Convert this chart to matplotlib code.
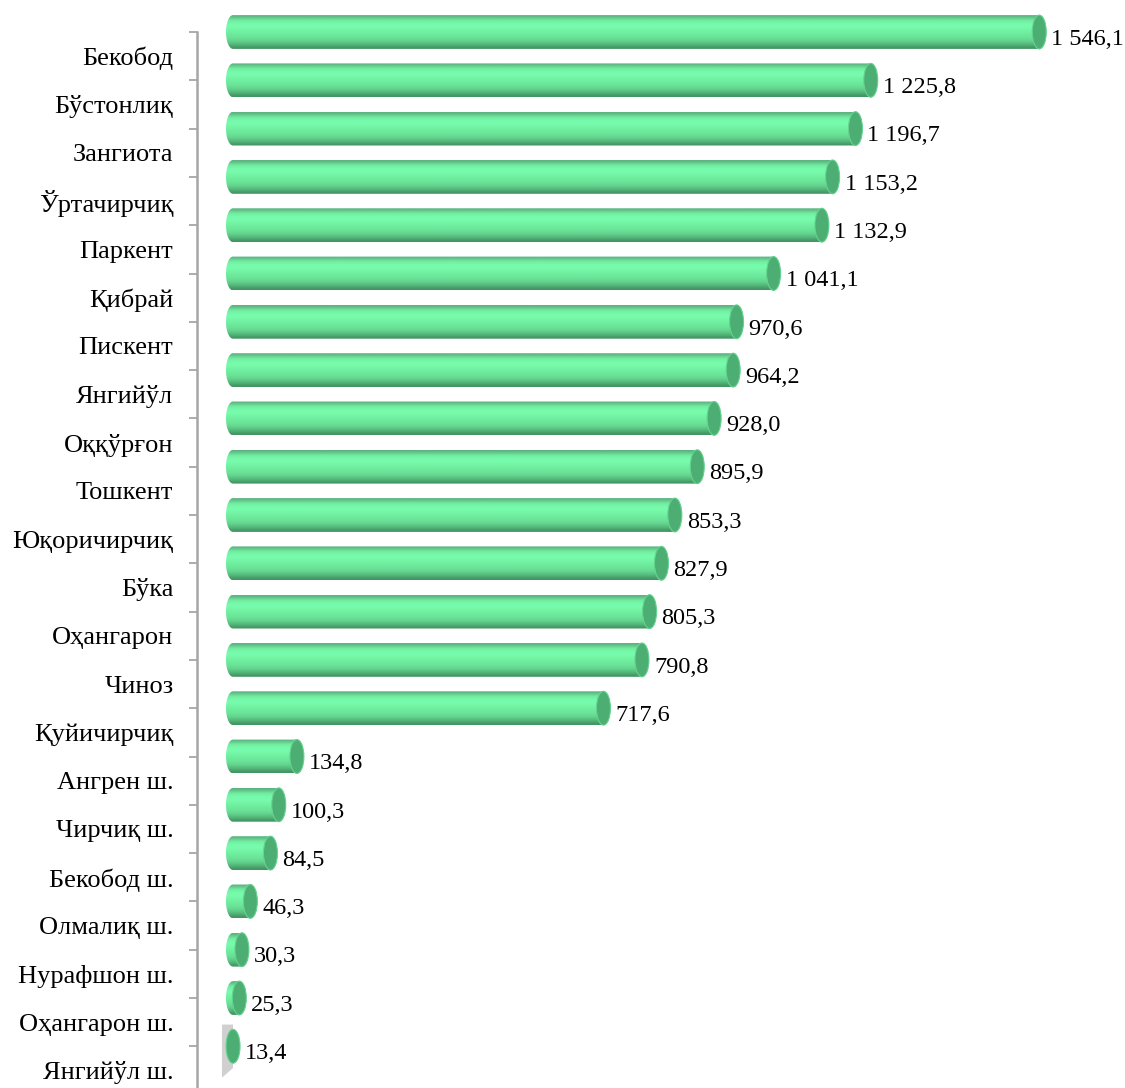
import matplotlib
matplotlib.use("Agg")
import matplotlib.pyplot as plt
import numpy as np
from matplotlib.patches import Ellipse, PathPatch, Polygon
from matplotlib.path import Path

districts = ["Бекобод", "Бўстонлиқ", "Зангиота", "Ўртачирчиқ", "Паркент", "Қибрай",
             "Пискент", "Янгийўл", "Оққўрғон", "Тошкент", "Юқоричирчиқ", "Бўка",
             "Оҳангарон", "Чиноз", "Қуйичирчиқ", "Ангрен ш.", "Чирчиқ ш.", "Бекобод ш.",
             "Олмалиқ ш.", "Нурафшон ш.", "Оҳангарон ш.", "Янгийўл ш."]
values = [1546.1, 1225.8, 1196.7, 1153.2, 1132.9, 1041.1, 970.6, 964.2, 928.0, 895.9,
          853.3, 827.9, 805.3, 790.8, 717.6, 134.8, 100.3, 84.5, 46.3, 30.3, 25.3, 13.4]


def fmt(v):
    s = "{:,.1f}".format(v)
    return s.replace(",", " ").replace(".", ",")


W, H = 1125, 1088
fig = plt.figure(figsize=(W / 100, H / 100), dpi=100)
ax = fig.add_axes([197 / W, 0, 1 - 197 / W, 1])

k = 0.526          # pixels per unit
x0_px = 226        # pixel of the left edge of the bars
rx = 7 / k         # half width of the end caps, data units
bh = 0.70          # bar height in slots
step = 48.3
y_top = -32 / step
y_bot = (H - 32) / step

# vertical shading of the cylinder body (top -> bottom)
shade = np.array([
    [0.36, 0.70, 0.50],
    [0.44, 0.92, 0.62],
    [0.46, 0.97, 0.66],
    [0.47, 0.99, 0.68],
    [0.46, 0.97, 0.66],
    [0.44, 0.94, 0.63],
    [0.43, 0.91, 0.61],
    [0.41, 0.88, 0.59],
    [0.38, 0.82, 0.55],
    [0.33, 0.72, 0.48],
    [0.26, 0.58, 0.38],
])
grad = shade[:, None, :]

t = np.linspace(0, np.pi, 40)
for i, v in enumerate(values):
    yt, yb = i - bh / 2, i + bh / 2
    c = max(v, rx)
    left = np.column_stack([rx - rx * np.sin(t), i - bh / 2 * np.cos(t)])
    right = np.column_stack([c + rx * np.sin(t), i + bh / 2 * np.cos(t)])
    verts = np.vstack([left, right, left[:1]])
    codes = [Path.MOVETO] + [Path.LINETO] * (len(verts) - 2) + [Path.CLOSEPOLY]
    body = PathPatch(Path(verts, codes), facecolor="none", edgecolor="none")
    ax.add_patch(body)
    im = ax.imshow(grad, extent=(0, c + rx, yb, yt), origin="upper",
                   aspect="auto", interpolation="bicubic", zorder=2)
    im.set_clip_path(body)
    ax.add_patch(Ellipse((c, i), 2 * rx, bh, facecolor="#4cae72",
                         edgecolor="#66d390", lw=0.8, zorder=3))
    ax.text(c + rx + 5 / k, i + 0.15, fmt(v), ha="left", va="center",
            fontsize=17.5, family="Liberation Serif", color="black")

# soft shadow behind the last (smallest) bar
n = len(values) - 1
ax.add_patch(Polygon([(-4 / k, n - 0.45), (rx, n - 0.45), (rx, n + 0.45),
                      (-4 / k, n + 0.65)], closed=True, facecolor="#bdbdbd",
                     edgecolor="none", alpha=0.7, zorder=1))

ax.set_xlim((197 - x0_px) / k, (W - x0_px) / k)
ax.set_ylim(y_bot, y_top)

for s in ["top", "right", "bottom"]:
    ax.spines[s].set_visible(False)
ax.spines["left"].set_bounds(0, y_bot)
ax.spines["left"].set_color("#a6a6a6")
ax.spines["left"].set_linewidth(1.8)
ax.set_xticks([])
ax.set_yticks(np.arange(len(values)))
ax.set_yticklabels([])
ax.tick_params(axis="y", which="major", length=6, width=1.3, color="#a6a6a6", direction="out")
ax.set_yticks(np.arange(len(values)) + 0.5, districts, minor=True)
ax.tick_params(axis="y", which="minor", length=0, pad=17)
for lbl in ax.get_yticklabels(minor=True):
    lbl.set_fontfamily("Liberation Serif")
    lbl.set_fontsize(19)

fig.savefig("out.png", dpi=100)
